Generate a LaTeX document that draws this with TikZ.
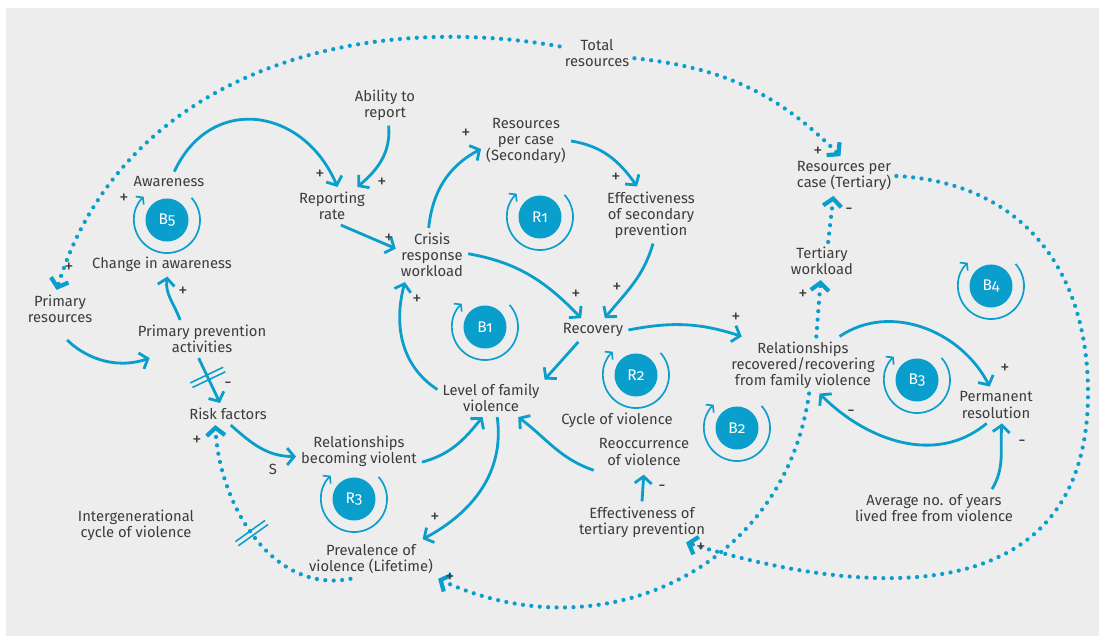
\documentclass[tikz,border=0pt]{standalone}
\usepackage{fontspec}
\setmainfont{Fira Sans}
\newfontfamily\loopfont[Numbers=OldStyle]{Fira Sans}
\usetikzlibrary{arrows.meta,decorations.markings}

\definecolor{cldblue}{RGB}{10,158,204}
\definecolor{cldtext}{RGB}{60,60,60}
\definecolor{cldback}{RGB}{237,237,237}

\tikzset{
  var/.style={align=center, inner sep=3.5pt, text=cldtext, font=\fontsize{10.5}{11.4}\selectfont},
  sign/.style={inner sep=0pt, text=cldtext, font=\fontsize{13}{13}\selectfont},
  link/.style={draw=cldblue, line width=2pt, -{Straight Barb[length=5pt,width=12pt]}},
  dots/.style={draw=cldblue, line width=3pt, line cap=round, dash pattern=on 0pt off 6pt,
    -{Straight Barb[length=5.5pt,width=13pt,line width=3pt]}},
  loopdot/.style={circle, fill=cldblue, minimum size=1.075cm, inner sep=0pt, text=white,
    font=\loopfont\fontsize{11}{11}\selectfont},
  looparc/.style={draw=cldblue, line width=1.2pt, -{Straight Barb[length=3.2pt,width=8pt]}},
  delay/.style={postaction={decorate, decoration={markings, mark=at position #1 with
    {\draw[solid, draw=cldblue, line cap=butt, line width=1.1pt, arrows=-]
      (-1.8pt,-13pt) -- (-1.8pt,13pt) (1.8pt,-13pt) -- (1.8pt,13pt);}}}}
}

\begin{document}
\begin{tikzpicture}[x=0.025cm, y=-0.025cm]
\useasboundingbox (0,0) rectangle (1099,637);
\fill[cldback] (6,8) rectangle (1099,636);

% variables
\node[var] (total) at (597,53) {Total\\resources};
\node[var] (ability) at (385,105) {Ability to\\report};
\node[var] (rsec) at (526,141) {Resources\\per case\\(Secondary)};
\node[var] (rter) at (844,176) {Resources per\\case (Tertiary)};
\node[var] (aware) at (169,182) {Awareness};
\node[var] (report) at (332,206) {Reporting\\rate};
\node[var] (esec) at (651,215) {Effectiveness\\of secondary\\prevention};
\node[var] (crisis) at (432,255) {Crisis\\response\\workload};
\node[var] (terwl) at (822,261) {Tertiary\\workload};
\node[var] (change) at (162,264) {Change in awareness};
\node[var] (primres) at (60,309) {Primary\\resources};
\node[var] (primprev) at (202,339) {Primary prevention\\activities};
\node[var] (recov) at (593,330) {Recovery};
\node[var] (relrec) at (803,365) {Relationships\\recovered/recovering\\from family violence};
\node[var] (perm) at (996,405) {Permanent\\resolution};
\node[var] (level) at (491,398) {Level of family\\violence};
\node[var] (risk) at (228,414) {Risk factors};
\node[var] (cyc) at (617,420) {Cycle of violence};
\node[var] (reocc) at (644,452) {Reoccurrence\\of violence};
\node[var] (relviol) at (359,451) {Relationships\\becoming violent};
\node[var] (intergen) at (136,525) {Intergenerational\\cycle of violence};
\node[var] (avg) at (934,508) {Average no. of years\\lived free from violence};
\node[var] (eter) at (642,522) {Effectiveness of\\tertiary prevention};
\node[var] (prev) at (371,559) {Prevalence of\\violence (Lifetime)};
\coordinate (rbend) at (1088,393);

% loops
\node[loopdot] (lb5) at (167,220) {B5};
\node[loopdot] (lr1) at (540,217) {R1};
\node[loopdot] (lb1) at (485,327) {B1};
\node[loopdot] (lr2) at (636,375) {R2};
\node[loopdot] (lb2) at (737,428) {B2};
\node[loopdot] (lb3) at (917,380) {B3};
\node[loopdot] (lb4) at (991,286) {B4};
\node[loopdot] (lr3) at (354,499) {R3};
\draw[looparc] ([shift={(42:0.825cm)}]lb5.center) arc[start angle=42, end angle=-225, radius=0.825cm];
\draw[looparc] ([shift={(42:0.825cm)}]lr1.center) arc[start angle=42, end angle=-225, radius=0.825cm];
\draw[looparc] ([shift={(42:0.825cm)}]lb1.center) arc[start angle=42, end angle=-225, radius=0.825cm];
\draw[looparc] ([shift={(42:0.825cm)}]lr2.center) arc[start angle=42, end angle=-225, radius=0.825cm];
\draw[looparc] ([shift={(42:0.825cm)}]lb2.center) arc[start angle=42, end angle=-225, radius=0.825cm];
\draw[looparc] ([shift={(42:0.825cm)}]lb3.center) arc[start angle=42, end angle=-225, radius=0.825cm];
\draw[looparc] ([shift={(42:0.825cm)}]lb4.center) arc[start angle=42, end angle=-225, radius=0.825cm];
\draw[looparc] ([shift={(42:0.825cm)}]lr3.center) arc[start angle=42, end angle=-225, radius=0.825cm];

% links
\draw[link] (aware.63) to[out=65,in=113,looseness=1.35] (report.74);
\draw[link] (ability.-80) to[out=-85,in=40] (report.37);
\draw[link] (report.-65) -- (crisis.170);
\draw[link] (crisis.97) to[out=84,in=-152] (rsec.190);
\draw[link] (rsec.east) to[out=-9,in=125] (esec.116);
\draw[link] (esec.-86) to[out=-106,in=51] (recov.45);
\draw[link] (crisis.2) to[out=-10,in=134] (recov.135);
\draw[link] (level.171) to[out=147,in=-105] (crisis.-135);
\draw[link] (recov.-141) -- (level.19);
\draw[link] (recov.east) to[out=11,in=162] (relrec.155);
\draw[link] (relrec.38) to[out=34,in=117] (perm.109);
\draw[link] (perm.-117) to[out=-140,in=-45] (relrec.-60);
\draw[link] (avg.18) to[out=59,in=-95] (perm.-72);
\draw[link] (reocc.200) to[out=161,in=-37] (level.-35);
\draw[link, shorten >=3pt] (eter.north) -- (reocc.south);
\draw[link] (relviol.-10) to[out=15,in=-129] (level.-114);
\draw[link] (level.-72) to[out=-82,in=28] (prev.21);
\draw[link] (risk.-76) to[out=-42,in=180] (relviol.-175);
\draw[link, delay=0.43] (primprev.-100) -- (risk.126);
\draw[link, shorten <=12pt] (primres.-104) to[out=-45,in=199] (primprev.200);
\draw[link] (primprev.139) to[out=110,in=-98] (change.-67);

% resource links
\draw[dots] (relrec.65) -- (terwl.-94);
\draw[dots] (terwl.72) -- (rter.-118);
\draw[dots, delay=0.5] (prev.-136) to[out=-169,in=-87] (risk.-139);
\draw[dots] (total.170) to[out=170,in=73] (primres.100);
\draw[dots] (total.-8) to[out=-6,in=135] (rter.100);
\draw[dots] (rter.east) to[out=-3,in=90,looseness=1.1] (rbend)
  to[out=-90,in=-17,looseness=1.25] (eter.-25);
\draw[dots] (relrec.-78) to[out=-98,in=-25,looseness=1.1] (prev.south east);

% polarities
\node[sign] (s1) at (320,175) {+};
\node[sign] (s2) at (382,183) {+};
\node[sign] (s3) at (389,239) {+};
\node[sign] (s4) at (466,134) {+};
\node[sign] (s5) at (616,178) {+};
\node[sign] (s6) at (617,288) {+};
\node[sign] (s7) at (576,295) {+};
\node[sign] (s8) at (417,300) {+};
\node[sign] (s9) at (736,318) {+};
\node[sign] (s10) at (803,295) {+};
\node[sign] (s11) at (849,211) {-};
\node[sign] (s12) at (818,152) {+};
\node[sign] (s13) at (1005,369) {+};
\node[sign] (s14) at (851,413) {-};
\node[sign] (s15) at (1022,443) {-};
\node[sign] (s16) at (662,488) {-};
\node[sign] (s17) at (435,518) {+};
\node[sign, font=\fontsize{10.5}{11}\selectfont] (s18) at (273,469) {S};
\node[sign] (s19) at (228,385) {-};
\node[sign] (s20) at (183,292) {+};
\node[sign] (s21) at (69,268) {+};
\node[sign] (s22) at (197,441) {+};
\node[sign] (s23) at (450,578) {+};
\node[sign] (s24) at (701,548) {+};
\node[sign] (s25) at (124,199) {+};
\end{tikzpicture}
\end{document}
